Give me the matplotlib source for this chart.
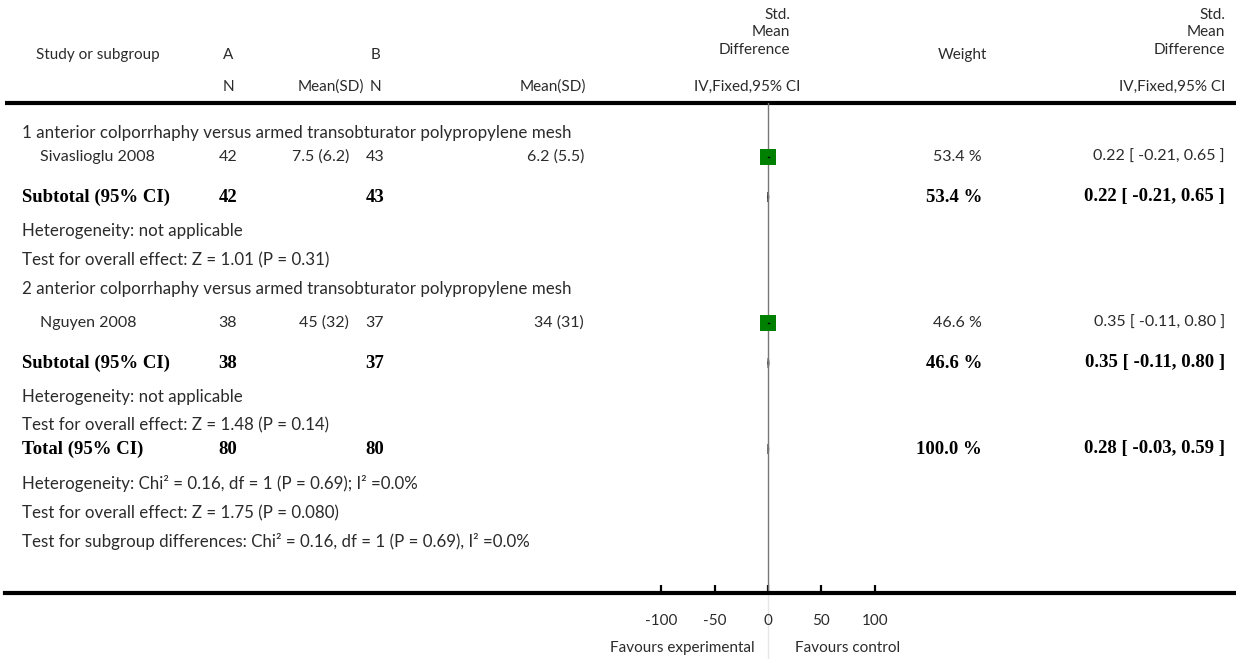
import matplotlib
matplotlib.use("Agg")
import matplotlib.pyplot as plt
from matplotlib.patches import Polygon

# ---------------- data ----------------
subgroups = ["1 anterior colporrhaphy versus armed transobturator polypropylene mesh",
             "2 anterior colporrhaphy versus armed transobturator polypropylene mesh"]
studies = ["Sivaslioglu 2008", "Nguyen 2008"]
n_a = [42, 38]
mean_sd_a = ["7.5 (6.2)", "45 (32)"]
n_b = [43, 37]
mean_sd_b = ["6.2 (5.5)", "34 (31)"]
weights = [53.4, 46.6]
smd = [0.22, 0.35]
ci_low = [-0.21, -0.11]
ci_high = [0.65, 0.80]
het_sub = ["Heterogeneity: not applicable", "Heterogeneity: not applicable"]
test_sub = ["Test for overall effect: Z = 1.01 (P = 0.31)",
            "Test for overall effect: Z = 1.48 (P = 0.14)"]
total_n_a, total_n_b = 80, 80
total_weight = 100.0
total_smd, total_low, total_high = 0.28, -0.03, 0.59
total_notes = ["Heterogeneity: Chi² = 0.16, df = 1 (P = 0.69); I² =0.0%",
               "Test for overall effect: Z = 1.75 (P = 0.080)",
               "Test for subgroup differences: Chi² = 0.16, df = 1 (P = 0.69), I² =0.0%"]
xticks = [-100, -50, 0, 50, 100]
fav_left, fav_right = "Favours experimental", "Favours control"

# ---------------- layout ----------------
W, H = 1236, 659
fig = plt.figure(figsize=(W / 100, H / 100), dpi=100)
bg = fig.add_axes([0, 0, 1, 1])
bg.set_xlim(0, W)
bg.set_ylim(H, 0)
bg.axis("off")

SANS = ["Lato", "DejaVu Sans"]
SERIF = ["Liberation Serif", "DejaVu Serif"]
FS = 11.5
NFS = 12.2
HFS = 11
BFS = 13.5
TC = "#2b2b2b"

def t(x, y, s, ha="left", bold=False, color=None, fs=None):
    if bold:
        bg.text(x, y, s, ha=ha, va="center", fontsize=fs or BFS, family=SERIF,
                fontweight="bold", color=color or "black")
    else:
        bg.text(x, y, s, ha=ha, va="center", fontsize=fs or FS, family=SANS,
                color=color or TC)

# column positions (pixels)
X_LABEL = 22
X_STUDY = 40
X_NA = 228
X_MA = 349
X_NB = 375
X_MB = 584
X_W = 982
X_CI = 1225
X0 = 768          # pixel position of zero on forest scale
PX_PER_UNIT = 53.33 / 50.0

# header
t(36, 55, "Study or subgroup", fs=HFS)
t(X_NA, 55, "A", ha="center", fs=HFS)
t(X_NB, 55, "B", ha="center", fs=HFS)
t(X_NA, 87, "N", ha="center", fs=HFS)
t(331, 87, "Mean(SD)", ha="center", fs=HFS)
t(X_NB, 87, "N", ha="center", fs=HFS)
t(553, 87, "Mean(SD)", ha="center", fs=HFS)
for yy, s in zip([15, 32, 50], ["Std.", "Mean", "Difference"]):
    t(790, yy, s, ha="right", fs=HFS)
    t(X_CI, yy, s, ha="right", fs=HFS)
t(800, 87, "IV,Fixed,95% CI", ha="right", fs=HFS)
t(962, 55, "Weight", ha="center", fs=HFS)
t(X_CI, 87, "IV,Fixed,95% CI", ha="right", fs=HFS)

bg.plot([5, W], [103, 103], color="black", lw=3, solid_capstyle="butt")
bg.plot([X0, X0], [593, H], color="#e6e6e6", lw=1)

# forest axes: shares pixel y, x in effect units
TOP, BOT = 103, 593
left_px, right_px = 5, W
fx = fig.add_axes([left_px / W, (H - BOT) / H, (right_px - left_px) / W, (BOT - TOP) / H])
fx.set_xlim((left_px - X0) / PX_PER_UNIT, (right_px - X0) / PX_PER_UNIT)
fx.set_ylim(BOT, TOP)
fx.patch.set_alpha(0)
for sp in ["top", "left", "right"]:
    fx.spines[sp].set_visible(False)
fx.spines["bottom"].set_linewidth(3)
fx.set_yticks([])
fx.set_xticks(xticks)
fx.set_xticklabels([f"{v:d}" for v in xticks], family=SANS, fontsize=HFS, color=TC)
fx.tick_params(axis="x", direction="in", length=6, width=1.6, pad=15, color="black")
fx.axvline(0, color="#777777", lw=1)

# rows
sub_title_y = [133, 289]
study_y = [157, 323]
subtotal_y = [197, 363]
het_y = [231, 397]
test_y = [260, 425]

for i in range(2):
    t(X_LABEL, sub_title_y[i], subgroups[i], fs=NFS)
    t(X_STUDY, study_y[i], studies[i])
    t(X_NA, study_y[i], str(n_a[i]), ha="center")
    t(X_MA, study_y[i], mean_sd_a[i], ha="right")
    t(X_NB, study_y[i], str(n_b[i]), ha="center")
    t(X_MB, study_y[i], mean_sd_b[i], ha="right")
    t(X_W, study_y[i], f"{weights[i]:.1f} %", ha="right")
    t(X_CI, study_y[i], f"{smd[i]:.2f} [ {ci_low[i]:.2f}, {ci_high[i]:.2f} ]", ha="right")
    # study square + CI
    fx.plot([smd[i]], [study_y[i]], marker="s", color="#008000",
            markersize=11.5 * (weights[i] / 53.4) ** 0.25,
            markeredgewidth=0, linestyle="none")
    fx.plot([ci_low[i], ci_high[i]], [study_y[i], study_y[i]], color="black", lw=1)

    # subtotal
    t(X_LABEL, subtotal_y[i], "Subtotal (95% CI)", bold=True)
    t(X_NA, subtotal_y[i], str(n_a[i]), ha="center", bold=True)
    t(X_NB, subtotal_y[i], str(n_b[i]), ha="center", bold=True)
    t(X_W, subtotal_y[i], f"{weights[i]:.1f} %", ha="right", bold=True)
    t(X_CI, subtotal_y[i], f"{smd[i]:.2f} [ {ci_low[i]:.2f}, {ci_high[i]:.2f} ]", ha="right", bold=True)
    yy = subtotal_y[i]
    fx.add_patch(Polygon([[ci_low[i], yy], [smd[i], yy - 5], [ci_high[i], yy], [smd[i], yy + 5]],
                         closed=True, facecolor="black", edgecolor="black", lw=0.8))
    t(X_LABEL, het_y[i], het_sub[i], fs=NFS)
    t(X_LABEL, test_y[i], test_sub[i], fs=NFS)

# total
TY = 449
t(X_LABEL, TY, "Total (95% CI)", bold=True)
t(X_NA, TY, str(total_n_a), ha="center", bold=True)
t(X_NB, TY, str(total_n_b), ha="center", bold=True)
t(X_W, TY, f"{total_weight:.1f} %", ha="right", bold=True)
t(X_CI, TY, f"{total_smd:.2f} [ {total_low:.2f}, {total_high:.2f} ]", ha="right", bold=True)
fx.add_patch(Polygon([[total_low, TY], [total_smd, TY - 5], [total_high, TY], [total_smd, TY + 5]],
                     closed=True, facecolor="black", edgecolor="black", lw=0.8))
for yy, s in zip([484, 513, 542], total_notes):
    t(X_LABEL, yy, s, fs=NFS)

# favours
t(755, 648, fav_left, ha="right", fs=HFS)
t(795, 648, fav_right, ha="left", fs=HFS)

fig.savefig("out.png", dpi=100)
